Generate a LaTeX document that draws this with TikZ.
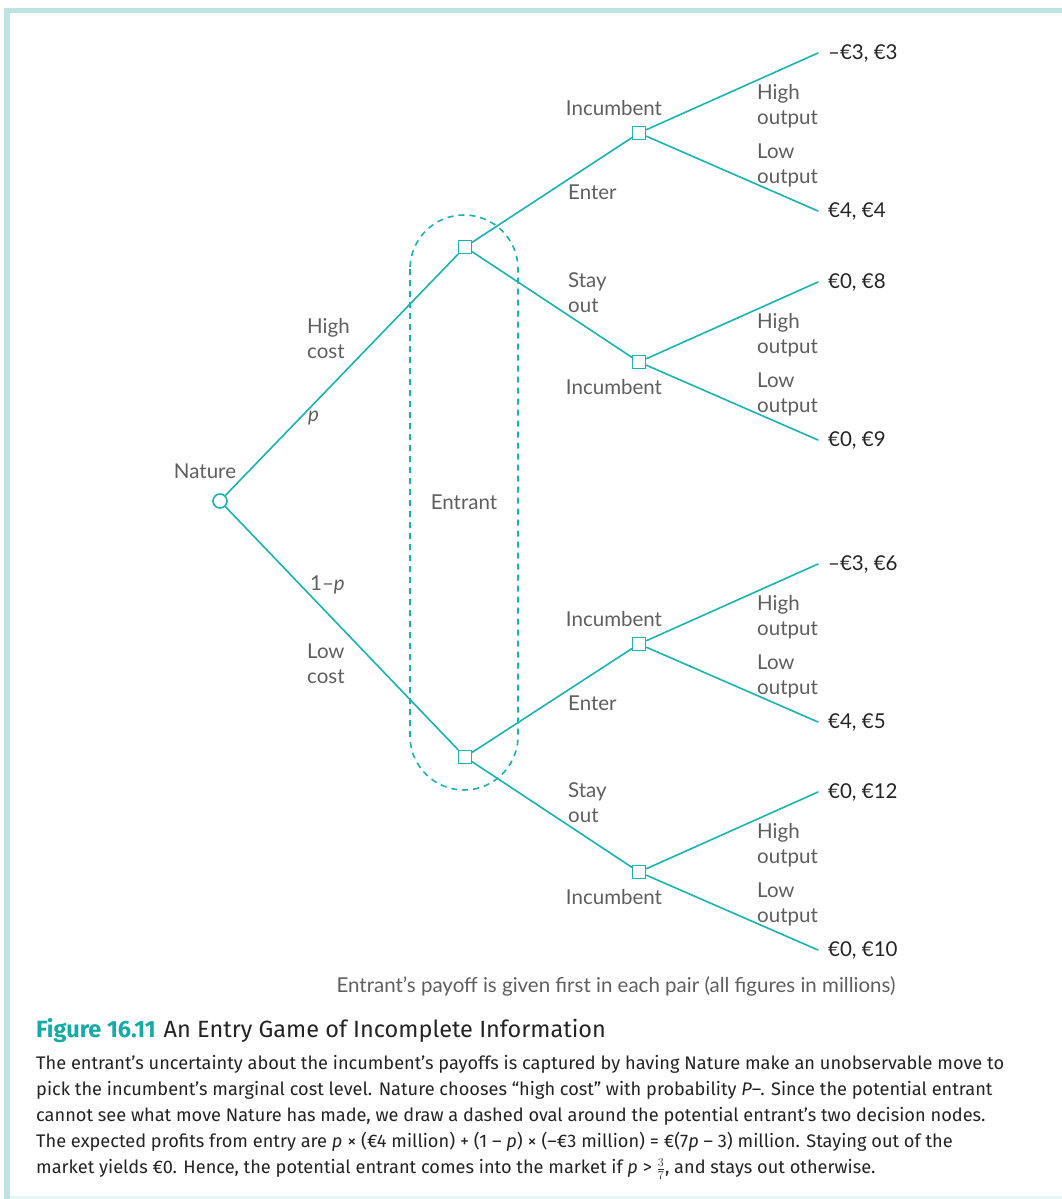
\documentclass[tikz,border=0pt]{standalone}
\usepackage{fontspec}
\setmainfont{Lato}
\newfontfamily\capfont{Fira Sans}
\usetikzlibrary{positioning}
\definecolor{tline}{HTML}{1AB3AD}
\definecolor{frame}{HTML}{BDE4E3}
\definecolor{framel}{HTML}{E6F5F4}
\definecolor{inkl}{HTML}{5E5E5E}
\definecolor{ink}{HTML}{232323}
\definecolor{figteal}{HTML}{14AAA6}
\tikzset{br/.style={tline, line width=1.6pt, line cap=round},
  dn/.style={draw=tline, line width=1.6pt, fill=white, minimum size=13pt, inner sep=0pt},
  cn/.style={dn, circle, minimum size=14pt},
  lb/.style={text=inkl, font=\fontsize{20.5}{25}\selectfont, inner sep=0pt, align=left},
  po/.style={text=ink, font=\fontsize{20.5}{24}\selectfont, inner sep=0pt, anchor=west}}

\begin{document}
\begin{tikzpicture}[x=1pt,y=-1pt]
  \useasboundingbox (0,0) rectangle (1062,1199);
  % frame
  \fill[frame] (4,8) rectangle (1062,13); \fill[frame] (4,8) rectangle (10,1199);
  \fill[framel] (10,1196) rectangle (1062,1199);
  % information set of the entrant
  \draw[tline, line width=1.6pt, dash pattern=on 6pt off 5pt, rounded corners=54pt] (410,215) rectangle (518,790);
  \node[lb] (ent) at (464,502) {Entrant};
  % nature and entrant
  \node[cn] (nat) at (220,501) {};
  \node[lb, above=14pt of nat, xshift=-15pt] (natl) {Nature};
  \node[dn] (e1) at (465,247) {};
  \node[dn] (e2) at (465,757) {};
  \draw[br] (nat) -- (e1); \draw[br] (nat) -- (e2);
  \node[lb, anchor=west] at (307,339) {High\\cost};
  \node[lb, anchor=west] at (308,418) {\textit{p}};
  \node[lb, anchor=west] at (310,585) {1–\textit{p}};
  \node[lb, anchor=west] at (307,664) {Low\\cost};
  % incumbent
  \foreach \n/\y/\hi/\lo/\e in {1/133/{–€3, €3}/{€4, €4}/1, 2/362/{€0, €8}/{€0, €9}/1, 3/644/{–€3, €6}/{€4, €5}/2, 4/872/{€0, €12}/{€0, €10}/2}{
     \node[dn] (i\n) at (639,\y) {};
     \draw[br] (e\e) -- (i\n);
     \coordinate (h\n) at (818,\y-80); \coordinate (l\n) at (818,\y+78);
     \draw[br] (i\n) -- (h\n); \draw[br] (i\n) -- (l\n);
     \node[po, right=10pt of h\n] (ph\n) {\hi};
     \node[po, right=10pt of l\n] (pl\n) {\lo};
     \node[lb, anchor=west] at (757,\y-27) {High\\output};
     \node[lb, anchor=west] at (757,\y+32) {Low\\output};}
  \foreach \n in {1,3}{\node[lb, above=10pt of i\n, xshift=-25pt] {Incumbent};}
  \foreach \n in {2,4}{\node[lb, below=10pt of i\n, xshift=-25pt] {Incumbent};}
  \node[lb, anchor=west] at (568,192) {Enter};
  \node[lb, anchor=west] at (568,703) {Enter};
  \node[lb, anchor=west] at (568,293) {Stay\\out};
  \node[lb, anchor=west] at (568,803) {Stay\\out};
  \node[lb] (note) at (616,986) {Entrant’s payoff is given first in each pair (all figures in millions)};
  % caption
  \node[anchor=base west, inner sep=0pt, text=ink, font=\capfont\fontsize{23.5}{28}\selectfont] (cap) at (36,1037)
     {\textcolor{figteal}{\bfseries Figure 16.11}\hspace{8pt}An Entry Game of Incomplete Information};
  \node[anchor=north west, inner sep=0pt, text=ink, align=left, font=\capfont\fontsize{18.2}{26}\selectfont] (capt) at (36,1055)
     {The entrant’s uncertainty about the incumbent’s payoffs is captured by having Nature make an unobservable move to\\
      pick the incumbent’s marginal cost level. Nature chooses “high cost” with probability \textit{P}–. Since the potential entrant\\
      cannot see what move Nature has made, we draw a dashed oval around the potential entrant’s two decision nodes.\\
      The expected profits from entry are \textit{p} × (€4 million) + (1 – \textit{p}) × (–€3 million) = €(7\textit{p} – 3) million. Staying out of the\\
      market yields €0. Hence, the potential entrant comes into the market if \textit{p} > $\frac{3}{7}$, and stays out otherwise.};
\end{tikzpicture}
\end{document}
